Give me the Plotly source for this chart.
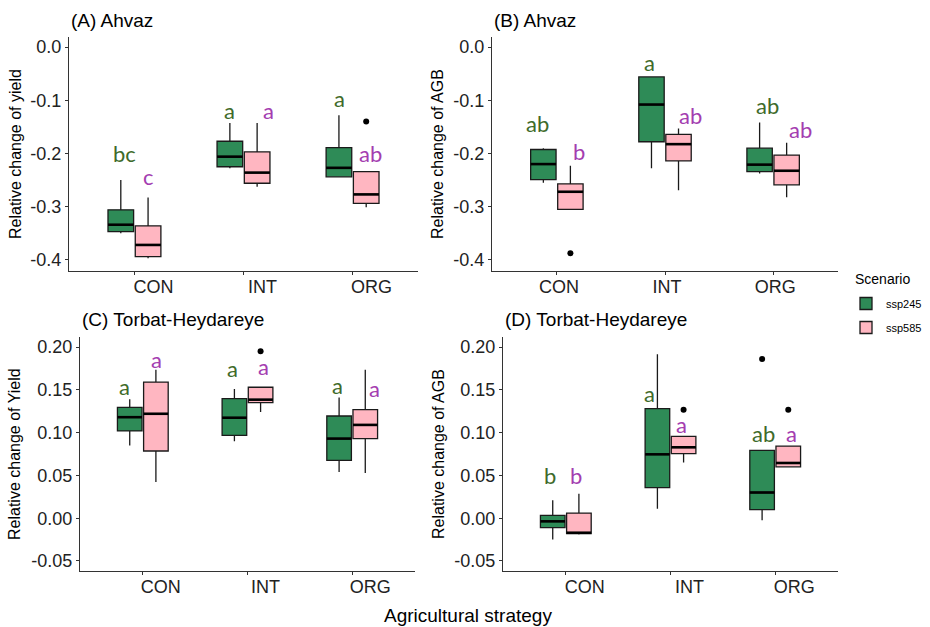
import plotly.graph_objects as go

W, H = 930, 627

categories = ["CON", "INT", "ORG"]
scenarios = ["ssp245", "ssp585"]

# ---- Panel A: Ahvaz, relative change of yield ----
A_245_low = [-0.350, -0.228, -0.245]
A_245_q1 = [-0.347, -0.225, -0.244]
A_245_med = [-0.334, -0.206, -0.227]
A_245_q3 = [-0.306, -0.177, -0.189]
A_245_up = [-0.250, -0.1425, -0.128]
A_245_out = []
A_585_low = [-0.397, -0.2625, -0.301]
A_585_q1 = [-0.394, -0.256, -0.294]
A_585_med = [-0.372, -0.236, -0.277]
A_585_q3 = [-0.336, -0.197, -0.234]
A_585_up = [-0.283, -0.1425, -0.234]
A_585_out = [("ORG", -0.140)]
A_245_letters = ["bc", "a", "a"]
A_245_letter_y = [-0.200, -0.119, -0.097]
A_585_letters = ["c", "a", "ab"]
A_585_letter_y = [-0.244, -0.119, -0.200]

# ---- Panel B: Ahvaz, relative change of AGB ----
B_245_low = [-0.255, -0.228, -0.2375]
B_245_q1 = [-0.249, -0.178, -0.234]
B_245_med = [-0.220, -0.108, -0.221]
B_245_q3 = [-0.1925, -0.056, -0.190]
B_245_up = [-0.190, -0.056, -0.142]
B_245_out = []
B_585_low = [-0.305, -0.269, -0.2825]
B_585_q1 = [-0.305, -0.214, -0.259]
B_585_med = [-0.272, -0.1825, -0.2325]
B_585_q3 = [-0.257, -0.164, -0.203]
B_585_up = [-0.223, -0.153, -0.180]
B_585_out = [("CON", -0.3875)]
B_245_letters = ["ab", "a", "ab"]
B_245_letter_y = [-0.144, -0.028, -0.109]
B_585_letters = ["b", "ab", "ab"]
B_585_letter_y = [-0.197, -0.128, -0.154]

# ---- Panel C: Torbat-Heydareye, relative change of Yield ----
C_245_low = [0.085, 0.090, 0.054]
C_245_q1 = [0.102, 0.0968, 0.0676]
C_245_med = [0.118, 0.1174, 0.093]
C_245_q3 = [0.1295, 0.1396, 0.1194]
C_245_up = [0.139, 0.151, 0.141]
C_245_out = []
C_585_low = [0.0423, 0.124, 0.0528]
C_585_q1 = [0.0785, 0.135, 0.093]
C_585_med = [0.122, 0.1385, 0.109]
C_585_q3 = [0.159, 0.153, 0.1268]
C_585_up = [0.1735, 0.153, 0.1735]
C_585_out = [("INT", 0.195)]
C_245_letters = ["a", "a", "a"]
C_245_letter_y = [0.154, 0.175, 0.155]
C_585_letters = ["a", "a", "a"]
C_585_letter_y = [0.186, 0.177, 0.151]

# ---- Panel D: Torbat-Heydareye, relative change of AGB ----
D_245_low = [-0.025, 0.0111, -0.0025]
D_245_q1 = [-0.011, 0.0357, 0.010]
D_245_med = [-0.0037, 0.0746, 0.030]
D_245_q3 = [0.0033, 0.128, 0.0793]
D_245_up = [0.0209, 0.1914, 0.0793]
D_245_out = [("ORG", 0.186)]
D_585_low = [-0.019, 0.065, 0.060]
D_585_q1 = [-0.018, 0.0754, 0.060]
D_585_med = [-0.017, 0.0828, 0.0645]
D_585_q3 = [0.006, 0.0956, 0.0843]
D_585_up = [0.0287, 0.0956, 0.0843]
D_585_out = [("INT", 0.1268), ("ORG", 0.1268)]
D_245_letters = ["b", "a", "ab"]
D_245_letter_y = [0.050, 0.146, 0.099]
D_585_letters = ["b", "a", "a"]
D_585_letter_y = [0.050, 0.110, 0.099]

# tick labels
ahvaz_tickvals = [0.0, -0.1, -0.2, -0.3, -0.4]
ahvaz_ticktext = ["0.0", "-0.1", "-0.2", "-0.3", "-0.4"]
torbat_tickvals = [0.20, 0.15, 0.10, 0.05, 0.00, -0.05]
torbat_ticktext = ["0.20", "0.15", "0.10", "0.05", "0.00", "-0.05"]

panel_titles = ["(A) Ahvaz", "(B) Ahvaz", "(C) Torbat-Heydareye", "(D) Torbat-Heydareye"]
y_titles = ["Relative change of yield", "Relative change of AGB",
            "Relative change of Yield", "Relative change of AGB"]
x_title = "Agricultural strategy"
legend_title = "Scenario"

# ---------------- styling ----------------
FILL = {"ssp245": "#2E8B57", "ssp585": "#FFB6C1"}
LETTER_COL = {"ssp245": "#3F6B2A", "ssp585": "#A43DB0"}
OFFSET = {"ssp245": -0.125, "ssp585": 0.125}
BOXW = 0.235
AXCOL = "#333333"
FONT = "Liberation Sans, Arial, sans-serif"
LFONT = "Lato, Carlito, sans-serif"
# small horizontal pixel nudges of the letter labels (layout only)
LETTER_DX = {
    "A": {"ssp245": [4, 0, 1], "ssp585": [0, 11, 4]},
    "B": {"ssp245": [-6, -2, 8], "ssp585": [9, 12, 14]},
    "C": {"ssp245": [-5, -2, -2], "ssp585": [1, 3, 9]},
    "D": {"ssp245": [-3, -8, 1], "ssp585": [-3, -2, 3]},
}


def px(x):
    return x / W


def py(y):
    return 1 - y / H


panels = [
    dict(name="A", xd=(69, 418), yd=(37, 271), yr=(-0.421, 0.019),
         tv=ahvaz_tickvals, tt=ahvaz_ticktext, shift=19, title_xy=(69, 21), ytitle_x=15,
         data={"ssp245": (A_245_low, A_245_q1, A_245_med, A_245_q3, A_245_up, A_245_out, A_245_letters, A_245_letter_y),
               "ssp585": (A_585_low, A_585_q1, A_585_med, A_585_q3, A_585_up, A_585_out, A_585_letters, A_585_letter_y)}),
    dict(name="B", xd=(492, 838), yd=(37, 271), yr=(-0.421, 0.019),
         tv=ahvaz_tickvals, tt=ahvaz_ticktext, shift=2, title_xy=(492, 21), ytitle_x=437,
         data={"ssp245": (B_245_low, B_245_q1, B_245_med, B_245_q3, B_245_up, B_245_out, B_245_letters, B_245_letter_y),
               "ssp585": (B_585_low, B_585_q1, B_585_med, B_585_q3, B_585_up, B_585_out, B_585_letters, B_585_letter_y)}),
    dict(name="C", xd=(80, 415), yd=(337, 571), yr=(-0.0617, 0.2117),
         tv=torbat_tickvals, tt=torbat_ticktext, shift=18, title_xy=(80, 319), ytitle_x=14,
         data={"ssp245": (C_245_low, C_245_q1, C_245_med, C_245_q3, C_245_up, C_245_out, C_245_letters, C_245_letter_y),
               "ssp585": (C_585_low, C_585_q1, C_585_med, C_585_q3, C_585_up, C_585_out, C_585_letters, C_585_letter_y)}),
    dict(name="D", xd=(503, 838), yd=(337, 571), yr=(-0.0617, 0.2117),
         tv=torbat_tickvals, tt=torbat_ticktext, shift=19, title_xy=(503, 319), ytitle_x=438,
         data={"ssp245": (D_245_low, D_245_q1, D_245_med, D_245_q3, D_245_up, D_245_out, D_245_letters, D_245_letter_y),
               "ssp585": (D_585_low, D_585_q1, D_585_med, D_585_q3, D_585_up, D_585_out, D_585_letters, D_585_letter_y)}),
]

fig = go.Figure()
annotations = []
layout_axes = {}

for k, p in enumerate(panels):
    sfx = "" if k == 0 else str(k + 1)
    xref, yref = "x" + sfx, "y" + sfx
    for sc in scenarios:
        low, q1, med, q3, up, out, letters, ly = p["data"][sc]
        xs = [i + OFFSET[sc] for i in range(len(categories))]
        fig.add_trace(go.Box(
            x=xs, q1=q1, median=med, q3=q3, lowerfence=low, upperfence=up,
            width=BOXW, whiskerwidth=0, boxpoints=False,
            fillcolor=FILL[sc], line=dict(color="#1a1a1a", width=1.3),
            name=sc, legendgroup=sc, showlegend=(k == 0),
            xaxis=xref, yaxis=yref, hoverinfo="skip"))
        # thick median bars (ggplot style)
        mx, my = [], []
        for x0, m in zip(xs, med):
            mx += [x0 - BOXW / 2, x0 + BOXW / 2, None]
            my += [m, m, None]
        fig.add_trace(go.Scatter(x=mx, y=my, mode="lines", line=dict(color="black", width=2.6),
                                 showlegend=False, xaxis=xref, yaxis=yref, hoverinfo="skip"))
        if out:
            fig.add_trace(go.Scatter(
                x=[categories.index(c) + OFFSET[sc] for c, _ in out], y=[v for _, v in out],
                mode="markers", marker=dict(color="black", size=6),
                showlegend=False, xaxis=xref, yaxis=yref, hoverinfo="skip"))
        for i, (lt, yv) in enumerate(zip(letters, ly)):
            annotations.append(dict(x=xs[i], y=yv, xref=xref, yref=yref, text=lt, showarrow=False,
                                    xanchor="center", yanchor="middle", xshift=LETTER_DX[p["name"]][sc][i],
                                    font=dict(family=LFONT, size=22, color=LETTER_COL[sc])))
    axkw = dict(showline=True, linecolor=AXCOL, linewidth=1.2, ticks="outside", ticklen=3,
                tickcolor=AXCOL, tickwidth=1.1, showgrid=False, zeroline=False,
                tickfont=dict(family=FONT, size=18, color="#222222"))
    layout_axes["xaxis" + sfx] = dict(axkw, domain=[px(p["xd"][0]), px(p["xd"][1])], range=[-0.6, 2.6],
                                      tickvals=list(range(len(categories))), ticktext=categories,
                                      anchor=yref, ticklabelshift=p["shift"], ticklabelstandoff=-4)
    layout_axes["yaxis" + sfx] = dict(axkw, domain=[py(p["yd"][1]), py(p["yd"][0])], range=list(p["yr"]),
                                      tickvals=p["tv"], ticktext=p["tt"], anchor=xref)
    annotations.append(dict(x=px(p["title_xy"][0]), y=py(p["title_xy"][1]), xref="paper", yref="paper",
                            text=panel_titles[k], showarrow=False, xanchor="left", yanchor="middle",
                            font=dict(family=FONT, size=19, color="black")))
    annotations.append(dict(x=px(p["ytitle_x"]), y=py((p["yd"][0] + p["yd"][1]) / 2), xref="paper", yref="paper",
                            text=y_titles[k], showarrow=False, textangle=-90, xanchor="center", yanchor="middle",
                            font=dict(family=FONT, size=16, color="black")))

annotations.append(dict(x=px(468), y=py(615), xref="paper", yref="paper", text=x_title, showarrow=False,
                        xanchor="center", yanchor="middle", font=dict(family=FONT, size=19, color="black")))
annotations.append(dict(x=px(853), y=py(279), xref="paper", yref="paper", text=legend_title, showarrow=False,
                        xanchor="left", yanchor="middle", font=dict(family=FONT, size=14, color="black")))

fig.update_layout(
    width=W, height=H, margin=dict(l=0, r=0, t=0, b=0),
    paper_bgcolor="white", plot_bgcolor="white",
    annotations=annotations,
    legend=dict(x=px(846), y=py(289), xanchor="left", yanchor="top", tracegroupgap=5,
                font=dict(family=FONT, size=11, color="black"), bgcolor="rgba(0,0,0,0)"),
    **layout_axes,
)

fig.write_html("out.html", config={"displayModeBar": False},
               post_script="document.body.style.margin='0';")
